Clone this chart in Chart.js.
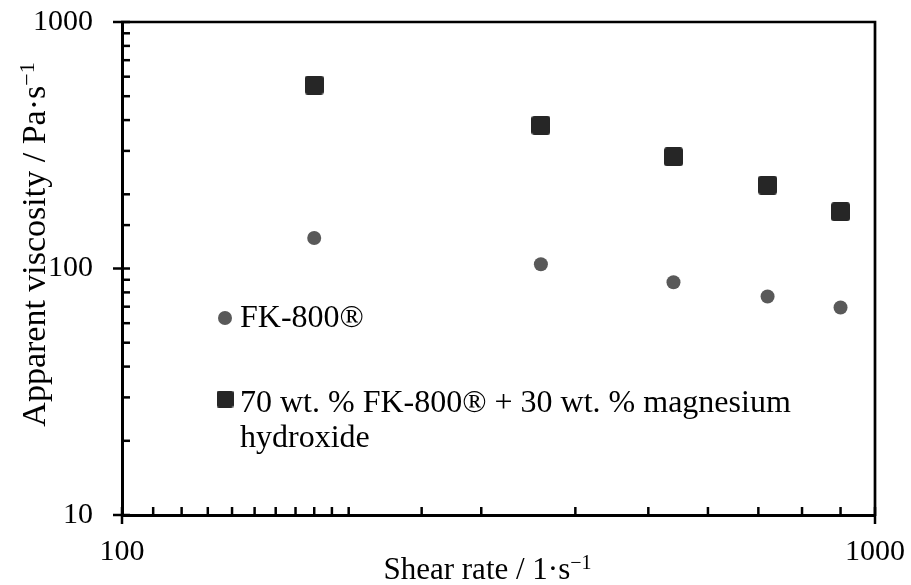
<!DOCTYPE html>
<html>
<head>
<meta charset="utf-8">
<script src="https://cdn.jsdelivr.net/npm/chart.js@4.4.1/dist/chart.umd.min.js"></script>
<style>
  html, body { margin: 0; padding: 0; background: #fff; }
  #wrap { width: 911px; height: 585px; position: relative; }
</style>
</head>
<body>
<div id="wrap"><canvas id="viscosity-chart"></canvas></div>
<script>
const shearRates = [180, 360, 540, 720, 900];
const viscosityFK800 = [133, 104, 88, 77, 69.5];
const viscosityBlend = [555, 381, 284, 218, 170];

const seriesLabels = ['FK-800®', '70 wt. % FK-800® + 30 wt. % magnesium hydroxide'];
const xTickLabels = ['100', '1000'];
const yTickLabels = ['10', '100', '1000'];
const xTitle = ['Shear rate / 1·s', '−1'];
const yTitle = ['Apparent viscosity / Pa·s', '−1'];

const serif = "'Liberation Serif', 'Times New Roman', serif";

// filled square with slightly rounded corners, used as a point style
function roundedSquare(size, radius, color) {
    const c = document.createElement('canvas');
    c.width = size;
    c.height = size;
    const g = c.getContext('2d');
    g.fillStyle = color;
    g.beginPath();
    g.roundRect(0, 0, size, size, radius);
    g.fill();
    return c;
}

const squareMark = roundedSquare(19, 3, '#262626');
const squareKey = roundedSquare(17, 2.5, '#262626');

const isDecade = v => Math.abs(Math.log10(v) - Math.round(Math.log10(v))) < 1e-9;

function drawSuperscripted(ctx, parts, size) {
    const [main, sup] = parts;
    const supSize = Math.round(size * 0.66);
    ctx.font = `${size}px ${serif}`;
    const w1 = ctx.measureText(main).width;
    ctx.font = `${supSize}px ${serif}`;
    const w2 = ctx.measureText(sup).width;
    const x0 = -(w1 + w2) / 2;
    ctx.textAlign = 'left';
    ctx.textBaseline = 'alphabetic';
    ctx.font = `${size}px ${serif}`;
    ctx.fillText(main, x0, 0);
    ctx.font = `${supSize}px ${serif}`;
    ctx.fillText(sup, x0 + w1, -size * 0.33);
}

function wrapText(ctx, text, maxWidth) {
    const words = text.split(' ');
    const lines = [];
    let line = '';
    words.forEach(word => {
        const test = line ? line + ' ' + word : word;
        if (ctx.measureText(test).width > maxWidth && line) {
            lines.push(line);
            line = word;
        } else {
            line = test;
        }
    });
    if (line) lines.push(line);
    return lines;
}

// labels may hang past the plot edges, so keep the layout fixed
function noOverhang(s) {
    s.paddingTop = 0;
    s.paddingBottom = 0;
    s.paddingLeft = 0;
    s.paddingRight = 0;
}

// box frame plus inward minor ticks and crossing major ticks
const frameAndTicks = {
    id: 'frameAndTicks',
    afterDraw(chart) {
        const { ctx, chartArea: a, scales: { x, y } } = chart;
        ctx.save();
        ctx.strokeStyle = '#000';
        ctx.lineWidth = 2.7;
        ctx.beginPath();
        ctx.moveTo(a.left - 1, a.top);
        ctx.lineTo(a.right, a.top);
        ctx.lineTo(a.right, a.bottom + 1);
        ctx.stroke();

        ctx.lineWidth = 2.5;
        x.ticks.forEach(t => {
            const px = x.getPixelForValue(t.value);
            const major = isDecade(t.value);
            ctx.beginPath();
            ctx.moveTo(px, a.bottom + (major ? 9 : 0));
            ctx.lineTo(px, a.bottom - 8);
            ctx.stroke();
        });
        y.ticks.forEach(t => {
            const py = y.getPixelForValue(t.value);
            const major = isDecade(t.value);
            ctx.beginPath();
            ctx.moveTo(a.left - (major ? 9 : 0), py);
            ctx.lineTo(a.left + 8, py);
            ctx.stroke();
        });
        ctx.restore();
    }
};

const axisTitles = {
    id: 'axisTitles',
    afterDraw(chart) {
        const { ctx, chartArea: a } = chart;
        ctx.save();
        ctx.fillStyle = '#000';
        ctx.translate((a.left + a.right) / 2 - 11, a.bottom + 64);
        drawSuperscripted(ctx, xTitle, 31);
        ctx.restore();

        ctx.save();
        ctx.fillStyle = '#000';
        ctx.translate(a.left - 77, (a.top + a.bottom) / 2 - 24);
        ctx.rotate(-Math.PI / 2);
        drawSuperscripted(ctx, yTitle, 34);
        ctx.restore();
    }
};

// legend sitting inside the plot, with the long label wrapped
const innerLegend = {
    id: 'innerLegend',
    afterDraw(chart) {
        const { ctx, chartArea: a } = chart;
        const rows = [
            { markY: a.top + 296, textY: a.top + 305 },
            { markY: a.top + 377, textY: a.top + 390 }
        ];
        ctx.save();
        ctx.font = `32px ${serif}`;
        ctx.fillStyle = '#000';
        ctx.textAlign = 'left';
        ctx.textBaseline = 'alphabetic';
        chart.data.datasets.forEach((ds, i) => {
            const row = rows[i];
            const mx = a.left + 103;
            ctx.save();
            ctx.fillStyle = ds.backgroundColor;
            Chart.helpers.drawPoint(ctx, {
                pointStyle: ds.keyStyle || ds.pointStyle,
                radius: ds.pointRadius,
                rotation: 0,
                borderWidth: 0
            }, mx, row.markY);
            ctx.restore();
            const lines = wrapText(ctx, ds.label, 590);
            lines.forEach((ln, j) => ctx.fillText(ln, a.left + 118, row.textY + j * 35));
        });
        ctx.restore();
    }
};

const tickFont = { family: serif, size: 30 };

new Chart(document.getElementById('viscosity-chart'), {
    type: 'scatter',
    data: {
        datasets: [
            {
                label: seriesLabels[0],
                data: shearRates.map((x, i) => ({ x, y: viscosityFK800[i] })),
                pointStyle: 'circle',
                pointRadius: 7,
                backgroundColor: '#595959',
                borderWidth: 0
            },
            {
                label: seriesLabels[1],
                data: shearRates.map((x, i) => ({ x, y: viscosityBlend[i] })),
                pointStyle: squareMark,
                keyStyle: squareKey,
                pointRadius: 9,
                backgroundColor: '#262626',
                borderWidth: 0
            }
        ]
    },
    options: {
        responsive: true,
        maintainAspectRatio: false,
        animation: false,
        layout: { padding: { left: 0, top: 22, right: 36, bottom: 0 } },
        scales: {
            x: {
                type: 'logarithmic',
                min: 100,
                max: 1000,
                afterFit: s => { s.height = 70; noOverhang(s); },
                grid: { drawOnChartArea: false, drawTicks: false },
                border: { color: '#000', width: 3 },
                ticks: {
                    autoSkip: false,
                    maxRotation: 0,
                    padding: 19,
                    color: '#000',
                    font: tickFont,
                    callback: v => {
                        const s = String(Math.round(v));
                        return xTickLabels.includes(s) ? s : '';
                    }
                }
            },
            y: {
                type: 'logarithmic',
                min: 10,
                max: 1000,
                afterFit: s => { s.width = 122; noOverhang(s); },
                grid: { drawOnChartArea: false, drawTicks: false },
                border: { color: '#000', width: 3 },
                ticks: {
                    autoSkip: false,
                    padding: 29,
                    color: '#000',
                    font: tickFont,
                    callback: v => {
                        const s = String(Math.round(v));
                        return yTickLabels.includes(s) ? s : '';
                    }
                }
            }
        },
        plugins: {
            legend: { display: false },
            tooltip: { enabled: false }
        }
    },
    plugins: [frameAndTicks, axisTitles, innerLegend]
});
</script>
</body>
</html>
